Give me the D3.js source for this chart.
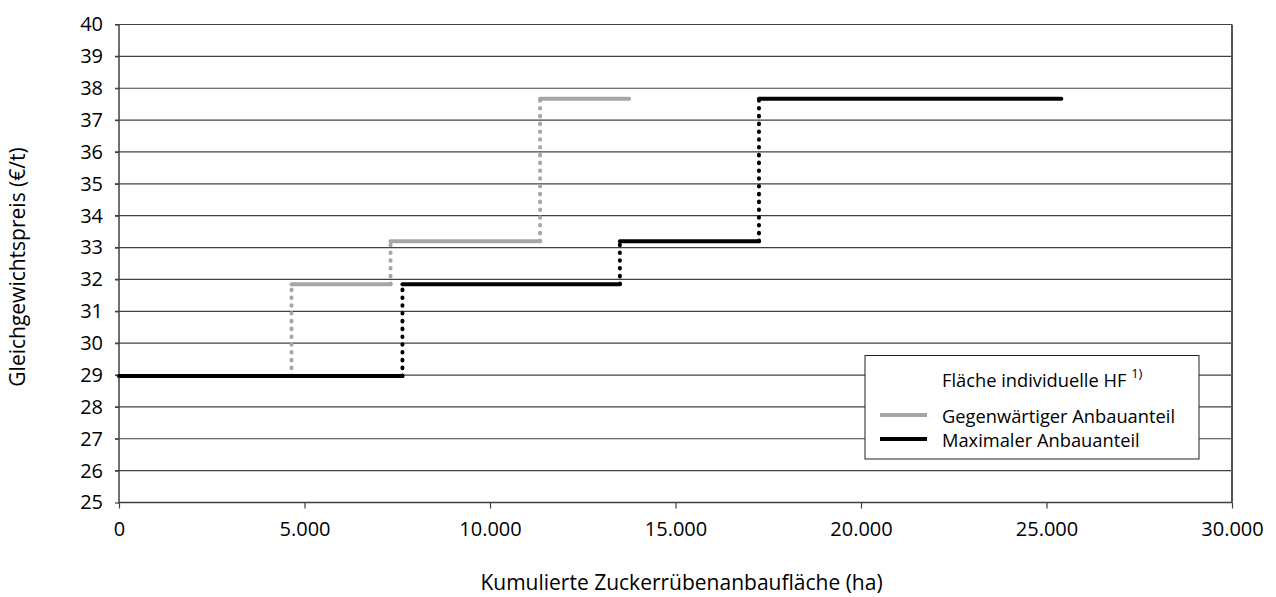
<!DOCTYPE html>
<html><head><meta charset="utf-8">
<script src="https://cdn.jsdelivr.net/npm/d3@7"></script>
<style>body{margin:0;background:#fff}svg{display:block}text{font-family:"Open Sans",Lato,sans-serif;fill:#000}</style>
</head><body><svg id="c" width="1276" height="597"></svg>
<script>
const xTicks = [0, 5000, 10000, 15000, 20000, 25000, 30000];
const yTicks = [25,26,27,28,29,30,31,32,33,34,35,36,37,38,39,40];
// step breakpoints (ha) and price levels (€/t)
const grayX = [0, 4650, 7320, 11350, 13750];
const grayY = [28.97, 31.85, 33.2, 37.67];
const blackX = [0, 7640, 13500, 17250, 25400];
const blackY = [28.97, 31.85, 33.2, 37.67];
const seriesNames = ["Gegenwärtiger Anbauanteil", "Maximaler Anbauanteil"];
const legendTitle = "Fläche individuelle HF";

const svg = d3.select("#c");
const L = 119, R = 1232, T = 24.5, B = 502.5;
const x = d3.scaleLinear().domain([0, 30000]).range([L, R]);
const y = d3.scaleLinear().domain([25, 40]).range([B, T]);
const fmt = d => d3.format(",")(d).replace(/,/g, ".");
const FF = "'Open Sans', Lato, sans-serif";
const FS_TICK = 20, FS_TITLE = 21, FS_LEG = 18.3;

// gridlines
svg.append("g").selectAll("line").data(yTicks.filter(d => d > 25)).join("line")
  .attr("x1", L - 4).attr("x2", R).attr("y1", d => y(d)).attr("y2", d => y(d))
  .attr("stroke", "#404040").attr("stroke-width", 1.2);

// y axis
const ya = svg.append("g").attr("transform", `translate(${L},0)`)
  .call(d3.axisLeft(y).tickValues(yTicks).tickSize(4).tickPadding(12));
ya.select(".domain").remove();
ya.selectAll("line").attr("stroke", "#404040").attr("stroke-width", 1.2);
ya.selectAll("text").attr("font-size", FS_TICK).attr("font-family", FF).attr("fill", "#000");

// x axis
const xa = svg.append("g").attr("transform", `translate(0,${B})`)
  .call(d3.axisBottom(x).tickValues(xTicks).tickFormat(fmt).tickSize(6).tickPadding(13));
xa.select(".domain").remove();
xa.selectAll("line").attr("stroke", "#404040").attr("stroke-width", 1.2);
xa.selectAll("text").attr("font-size", FS_TICK).attr("font-family", FF).attr("fill", "#000");

// frame lines
svg.append("line").attr("x1", L).attr("x2", L).attr("y1", T).attr("y2", B + 1).attr("stroke", "#404040").attr("stroke-width", 1.5);
svg.append("line").attr("x1", R).attr("x2", R).attr("y1", T).attr("y2", B).attr("stroke", "#555").attr("stroke-width", 2);
svg.append("line").attr("x1", L).attr("x2", R).attr("y1", B).attr("y2", B).attr("stroke", "#404040").attr("stroke-width", 1.5);

function drawStep(xs, ys, color) {
  const g = svg.append("g");
  for (let i = 0; i < ys.length; i++) {
    g.append("line").attr("x1", x(xs[i])).attr("x2", x(xs[i + 1]))
      .attr("y1", y(ys[i])).attr("y2", y(ys[i]))
      .attr("stroke", color).attr("stroke-width", 4).attr("stroke-linecap", "round");
  }
  for (let i = 1; i < ys.length; i++) {
    g.append("line").attr("x1", x(xs[i])).attr("x2", x(xs[i]))
      .attr("y1", y(ys[i - 1])).attr("y2", y(ys[i]))
      .attr("stroke", color).attr("stroke-width", 4).attr("stroke-linecap", "round")
      .attr("stroke-dasharray", "0.6 7.2");
  }
}
drawStep(grayX, grayY, "#a6a6a6");
drawStep(blackX, blackY, "#000");

// legend
const lg = svg.append("g");
lg.append("rect").attr("x", 865).attr("y", 355.5).attr("width", 334).attr("height", 103.5)
  .attr("fill", "#fff").attr("stroke", "#222").attr("stroke-width", 1);
const t0 = lg.append("text").attr("x", 942).attr("y", 387).attr("font-size", FS_LEG);
t0.append("tspan").text(legendTitle + " ");
t0.append("tspan").attr("font-size", 13).attr("dy", -9).text("1)");
const colors = ["#a6a6a6", "#000"];
seriesNames.forEach((n, i) => {
  const yy = 415 + i * 24;
  lg.append("line").attr("x1", 880).attr("x2", 927).attr("y1", yy).attr("y2", yy)
    .attr("stroke", colors[i]).attr("stroke-width", 4);
  lg.append("text").attr("x", 942).attr("y", yy + 7.5).attr("font-size", FS_LEG).text(n);
});

// titles
svg.append("text").attr("x", 681.5).attr("y", 590).attr("text-anchor", "middle")
  .attr("font-size", FS_TITLE).text("Kumulierte Zuckerrübenanbaufläche (ha)");
svg.append("text").attr("transform", "translate(25,267) rotate(-90)").attr("text-anchor", "middle")
  .attr("font-size", FS_TITLE).text("Gleichgewichtspreis (€/t)");
</script></body></html>
